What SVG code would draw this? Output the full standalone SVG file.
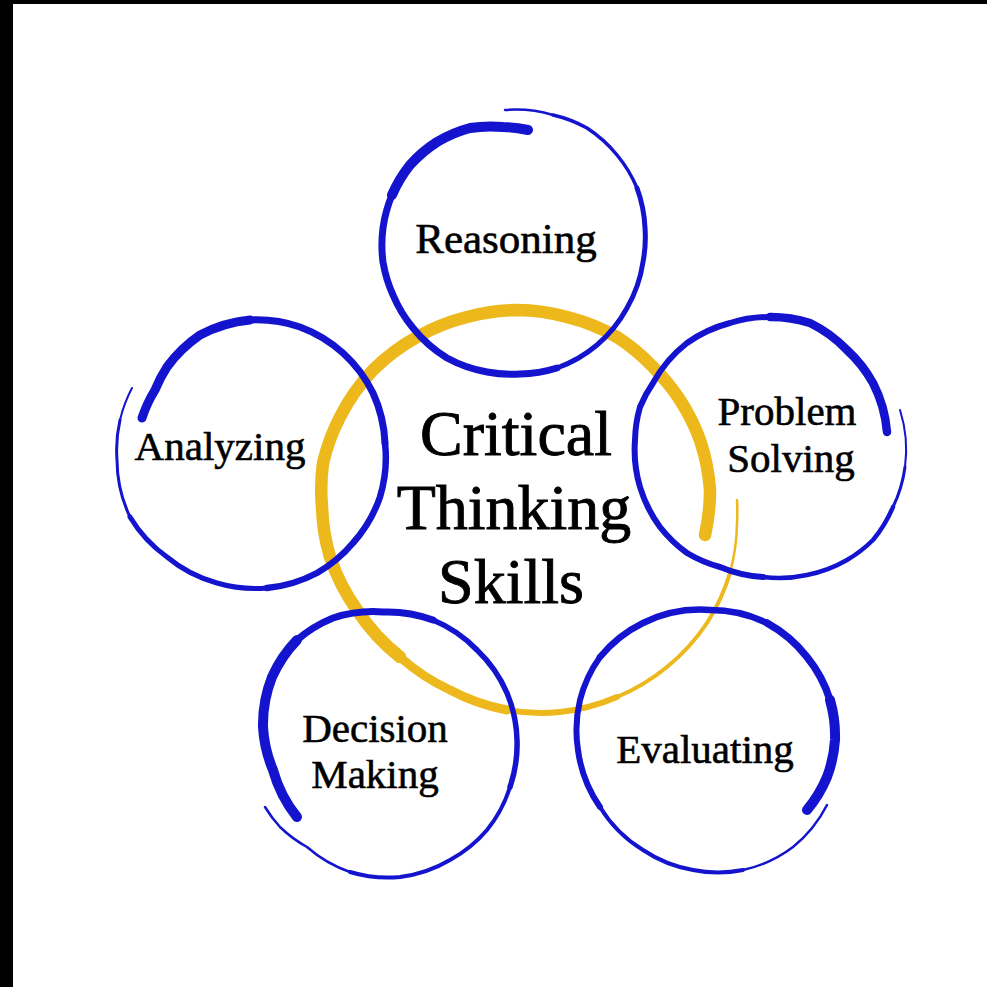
<svg xmlns="http://www.w3.org/2000/svg" width="987" height="987" viewBox="0 0 987 987">
<style>
.b{fill:none;stroke:#1414CE;stroke-linecap:round;stroke-linejoin:round}
.y{fill:none;stroke:#EDB81C;stroke-linecap:round;stroke-linejoin:round}
text{font-family:"Liberation Serif","Times New Roman",serif;fill:#000;stroke:#000;text-anchor:middle}
.lbl{font-size:41px;stroke-width:0.6}
.main{font-size:64px;stroke-width:0.9}
</style>
<rect x="0" y="0" width="987" height="987" fill="#fff"/>
<rect x="0" y="0" width="987" height="4" fill="#000"/>
<rect x="0" y="0" width="13" height="987" fill="#000"/>

<g id="critical-thinking-skills">
<path class="y" stroke-width="2.5" d="M737,500 A200 200 0 0 1 737,523 A200 200 0 0 1 730,573"/>
<path class="y" stroke-width="4" d="M730,573 A200 200 0 0 1 707,623 A200 200 0 0 1 667,667 A200 200 0 0 1 617,697"/>
<path class="y" stroke-width="6" d="M617,697 A200 200 0 0 1 560,712 A200 200 0 0 1 507,710"/>
<path class="y" stroke-width="9" d="M507,710 A200 200 0 0 1 450,690 A200 200 0 0 1 400,657"/>
<path class="y" stroke-width="12.5" d="M400,657 A200 200 0 0 1 357,610 A200 200 0 0 1 330,557 A200 200 0 0 1 322,507 A200 200 0 0 1 323,463 A200 200 0 0 1 340,417 A200 200 0 0 1 373,370 A200 200 0 0 1 417,337 A200 200 0 0 1 467,317 A200 200 0 0 1 517,310 A200 200 0 0 1 567,317 A200 200 0 0 1 617,337 A200 200 0 0 1 653,367 A200 200 0 0 1 680,400 A200 200 0 0 1 700,440 A200 200 0 0 1 710,490 A200 200 0 0 1 705,535"/>
<text class="main" x="516" y="455">Critical</text>
<text class="main" x="514" y="529">Thinking</text>
<text class="main" x="511" y="603">Skills</text>
</g>

<g id="reasoning">
<path class="b" stroke-width="10" d="M528,130 A131 131 0 0 0 503,127 A131 131 0 0 0 470,128 A131 131 0 0 0 437,142 A131 131 0 0 0 410,165 A131 131 0 0 0 392,195"/>
<path class="b" stroke-width="7" d="M392,195 A131 131 0 0 0 383,228 A131 131 0 0 0 383,262 A131 131 0 0 0 393,295 A131 131 0 0 0 413,328 A131 131 0 0 0 447,358 A131 131 0 0 0 487,372 A131 131 0 0 0 520,374 A131 131 0 0 0 557,368"/>
<path class="b" stroke-width="5" d="M557,368 A131 131 0 0 0 597,345 A131 131 0 0 0 627,308 A131 131 0 0 0 643,262 A131 131 0 0 0 645,228 A131 131 0 0 0 637,188"/>
<path class="b" stroke-width="3.5" d="M637,188 A131 131 0 0 0 617,155 A131 131 0 0 0 587,128 A131 131 0 0 0 553,115"/>
<path class="b" stroke-width="2.5" d="M553,115 A131 131 0 0 0 505,110"/>
<text class="lbl" x="506" y="253" style="font-size:43px">Reasoning</text>
</g>

<g id="problem-solving">
<path class="b" stroke-width="2" d="M900,410 A130 130 0 0 1 905,467"/>
<path class="b" stroke-width="3" d="M905,467 A130 130 0 0 1 893,507"/>
<path class="b" stroke-width="4.5" d="M893,507 A130 130 0 0 1 873,540 A130 130 0 0 1 847,560 A130 130 0 0 1 807,575 A130 130 0 0 1 763,577"/>
<path class="b" stroke-width="6" d="M763,577 A130 130 0 0 1 720,567 A130 130 0 0 1 687,553 A130 130 0 0 1 660,527 A130 130 0 0 1 640,487 A130 130 0 0 1 635,440 A130 130 0 0 1 640,407 A130 130 0 0 1 653,383 A130 130 0 0 1 687,343 A130 130 0 0 1 730,323 A130 130 0 0 1 770,317"/>
<path class="b" stroke-width="8.5" d="M770,317 A130 130 0 0 1 810,323 A130 130 0 0 1 847,350 A130 130 0 0 1 873,383 A130 130 0 0 1 887,432"/>
<text class="lbl" x="787" y="425">Problem</text>
<text class="lbl" x="791" y="472">Solving</text>
</g>

<g id="analyzing">
<path class="b" stroke-width="9" d="M142,418 A134 134 0 0 1 155,390 A134 134 0 0 1 167,367 A134 134 0 0 1 200,335 A134 134 0 0 1 250,320"/>
<path class="b" stroke-width="7" d="M250,320 A134 134 0 0 1 300,327 A134 134 0 0 1 343,353 A134 134 0 0 1 373,393 A134 134 0 0 1 385,443"/>
<path class="b" stroke-width="6.5" d="M385,443 A134 134 0 0 1 380,497 A134 134 0 0 1 353,543 A134 134 0 0 1 317,573 A134 134 0 0 1 267,588"/>
<path class="b" stroke-width="5" d="M267,588 A134 134 0 0 1 217,583 A134 134 0 0 1 167,557 A134 134 0 0 1 130,517"/>
<path class="b" stroke-width="3" d="M130,517 A134 134 0 0 1 117,460 A134 134 0 0 1 120,420"/>
<path class="b" stroke-width="2" d="M120,420 A134 134 0 0 1 132,388"/>
<text class="lbl" x="220" y="460">Analyzing</text>
</g>

<g id="decision-making">
<path class="b" stroke-width="2.5" d="M265,807 A130 130 0 0 0 280,827 A130 130 0 0 0 307,847 A130 130 0 0 0 350,872"/>
<path class="b" stroke-width="4" d="M350,872 A130 130 0 0 0 400,877 A130 130 0 0 0 450,860 A130 130 0 0 0 487,830 A130 130 0 0 0 510,787"/>
<path class="b" stroke-width="5.5" d="M510,787 A130 130 0 0 0 517,740 A130 130 0 0 0 507,693 A130 130 0 0 0 477,650 A130 130 0 0 0 433,620"/>
<path class="b" stroke-width="7" d="M433,620 A130 130 0 0 0 383,612 A130 130 0 0 0 333,618 A130 130 0 0 0 297,640"/>
<path class="b" stroke-width="10" d="M297,640 A130 130 0 0 0 272,677 A130 130 0 0 0 263,727 A130 130 0 0 0 273,770 A130 130 0 0 0 297,817"/>
<text class="lbl" x="375" y="742">Decision</text>
<text class="lbl" x="375" y="788">Making</text>
</g>

<g id="evaluating">
<path class="b" stroke-width="2.5" d="M827,805 A129 129 0 0 1 793,847 A129 129 0 0 1 743,870"/>
<path class="b" stroke-width="4" d="M743,870 A129 129 0 0 1 693,870 A129 129 0 0 1 643,850 A129 129 0 0 1 600,807"/>
<path class="b" stroke-width="6" d="M600,807 A129 129 0 0 1 578,750 A129 129 0 0 1 580,700 A129 129 0 0 1 600,657"/>
<path class="b" stroke-width="6.5" d="M600,657 A129 129 0 0 1 643,623 A129 129 0 0 1 710,610 A129 129 0 0 1 767,623"/>
<path class="b" stroke-width="7.5" d="M767,623 A129 129 0 0 1 807,657 A129 129 0 0 1 830,700"/>
<path class="b" stroke-width="10" d="M830,700 A129 129 0 0 1 835,740 A129 129 0 0 1 827,777 A129 129 0 0 1 807,810"/>
<text class="lbl" x="705" y="763">Evaluating</text>
</g>
</svg>
